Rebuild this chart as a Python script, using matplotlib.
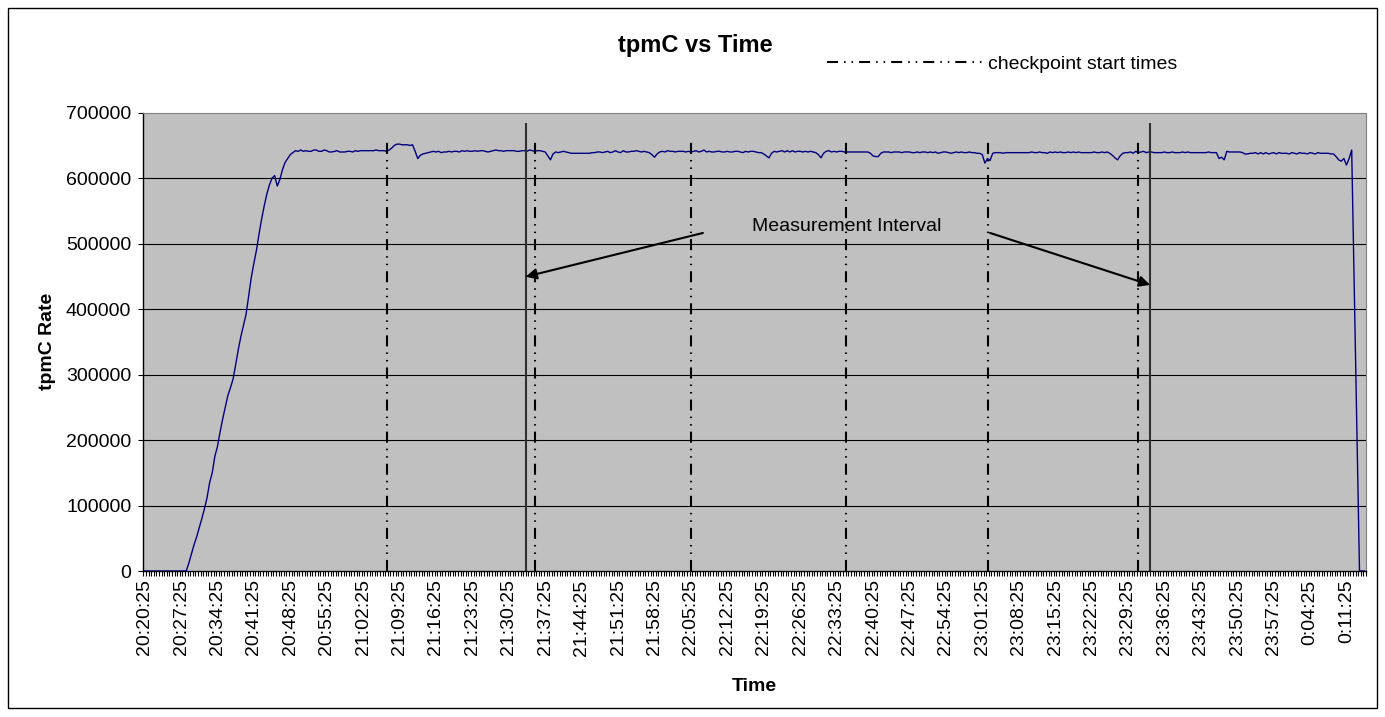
import numpy as np
import matplotlib
matplotlib.use("Agg")
import matplotlib.pyplot as plt
from matplotlib.lines import Line2D
from matplotlib.patches import Rectangle

plt.rcParams["font.family"] = ["Liberation Sans", "DejaVu Sans"]

# === Data (one sample every 30 s, starting 20:20:25) ===
START_TIME = "20:20:25"
SAMPLE_SECONDS = 30
LABEL_EVERY = 14  # one time label every 7 minutes

time_labels = [
    "20:20:25", "20:27:25", "20:34:25", "20:41:25", "20:48:25", "20:55:25",
    "21:02:25", "21:09:25", "21:16:25", "21:23:25", "21:30:25", "21:37:25",
    "21:44:25", "21:51:25", "21:58:25", "22:05:25", "22:12:25", "22:19:25",
    "22:26:25", "22:33:25", "22:40:25", "22:47:25", "22:54:25", "23:01:25",
    "23:08:25", "23:15:25", "23:22:25", "23:29:25", "23:36:25", "23:43:25",
    "23:50:25", "23:57:25", "0:04:25", "0:11:25",
]

tpmc = [
    0, 0, 0, 0, 0, 0, 0, 0, 0, 0, 0, 0, 0, 0,
    0, 0, 0, 12000, 26000, 40000, 52000, 66000, 80000, 95000, 112000, 135000, 150000, 175000,
    190000, 212000, 232000, 250000, 268000, 280000, 293000, 315000, 338000, 358000, 375000, 392000, 420000, 448000,
    470000, 490000, 515000, 538000, 558000, 576000, 590000, 600000, 604000, 588000, 598000, 613000, 624000, 630000,
    636000, 639000, 642000, 641000, 643000, 641000, 642000, 641000, 641000, 643000, 643000, 641000, 641000, 643000,
    642000, 640000, 640000, 641000, 642000, 640000, 640000, 640000, 641000, 641000, 640000, 642000, 641000, 642000,
    642000, 642000, 642000, 642000, 642000, 643000, 642000, 642000, 642000, 641000, 643000, 646000, 650000, 652000,
    652000, 651000, 651000, 651000, 650000, 651000, 641000, 630000, 635000, 637000, 638000, 639000, 640000, 641000,
    640000, 641000, 639000, 640000, 640000, 641000, 640000, 641000, 641000, 640000, 642000, 641000, 642000, 641000,
    641000, 642000, 641000, 642000, 642000, 641000, 640000, 641000, 642000, 643000, 642000, 642000, 641000, 642000,
    642000, 642000, 642000, 641000, 641000, 642000, 642000, 641000, 643000, 642000, 641000, 642000, 642000, 641000,
    640000, 634000, 628000, 637000, 640000, 639000, 640000, 641000, 640000, 639000, 638000, 638000, 638000, 638000,
    638000, 638000, 638000, 638000, 639000, 639000, 640000, 640000, 639000, 640000, 641000, 639000, 640000, 642000,
    640000, 639000, 642000, 640000, 640000, 641000, 641000, 642000, 641000, 640000, 641000, 640000, 639000, 636000,
    632000, 637000, 640000, 641000, 640000, 642000, 641000, 641000, 640000, 641000, 641000, 641000, 640000, 641000,
    640000, 641000, 642000, 640000, 641000, 643000, 640000, 641000, 640000, 640000, 641000, 641000, 640000, 640000,
    641000, 640000, 640000, 641000, 641000, 640000, 639000, 641000, 640000, 641000, 641000, 640000, 639000, 639000,
    637000, 634000, 631000, 638000, 641000, 640000, 641000, 642000, 640000, 642000, 640000, 642000, 640000, 641000,
    641000, 640000, 641000, 640000, 641000, 640000, 639000, 636000, 631000, 638000, 641000, 642000, 640000, 641000,
    640000, 641000, 641000, 640000, 640000, 640000, 640000, 640000, 640000, 640000, 640000, 640000, 640000, 638000,
    634000, 633000, 633000, 638000, 640000, 640000, 640000, 639000, 640000, 640000, 640000, 639000, 640000, 640000,
    640000, 639000, 639000, 640000, 639000, 640000, 640000, 639000, 640000, 639000, 640000, 638000, 639000, 640000,
    640000, 639000, 638000, 639000, 640000, 639000, 640000, 639000, 639000, 640000, 639000, 639000, 638000, 638000,
    636000, 623000, 630000, 627000, 638000, 639000, 639000, 639000, 638000, 639000, 639000, 639000, 639000, 639000,
    639000, 639000, 639000, 639000, 639000, 640000, 639000, 639000, 640000, 639000, 639000, 638000, 640000, 639000,
    640000, 639000, 640000, 639000, 639000, 640000, 639000, 640000, 639000, 640000, 639000, 639000, 639000, 639000,
    639000, 640000, 639000, 639000, 640000, 639000, 640000, 638000, 635000, 631000, 628000, 634000, 638000, 639000,
    639000, 640000, 638000, 641000, 639000, 640000, 641000, 639000, 640000, 640000, 639000, 639000, 639000, 639000,
    640000, 639000, 639000, 640000, 639000, 639000, 639000, 640000, 639000, 640000, 639000, 639000, 639000, 639000,
    639000, 639000, 639000, 640000, 639000, 639000, 639000, 630000, 632000, 628000, 641000, 640000, 640000, 640000,
    640000, 640000, 639000, 637000, 637000, 638000, 638000, 639000, 637000, 639000, 637000, 639000, 637000, 638000,
    639000, 637000, 639000, 638000, 638000, 638000, 637000, 639000, 638000, 637000, 639000, 638000, 638000, 637000,
    639000, 638000, 637000, 639000, 638000, 638000, 638000, 638000, 637000, 637000, 633000, 628000, 626000, 630000,
    620000, 630000, 643000, 430000, 210000, 0, 0, 0,
]

checkpoint_times = ["21:06:55", "21:35:25", "22:05:25", "22:35:10", "23:02:30", "23:31:25"]
interval_times = ["21:33:40", "23:33:40"]
CHECKPOINT_TOP = 658000
INTERVAL_TOP = 684000


def to_index(t):
    h, m, s = map(int, t.split(":"))
    h0, m0, s0 = map(int, START_TIME.split(":"))
    if h < 12:
        h += 24
    return ((h * 3600 + m * 60 + s) - (h0 * 3600 + m0 * 60 + s0)) / SAMPLE_SECONDS


# === Figure ===
W, H = 1385, 717
fig = plt.figure(figsize=(W / 100, H / 100), dpi=100)
ax = fig.add_axes([143.3 / W, 1 - 571 / H, 1222.7 / W, 458.3 / H])
ax.set_facecolor("#C0C0C0")

x = np.arange(len(tpmc))
ax.plot(x, tpmc, color="#000080", lw=1.0, zorder=3)

# horizontal gridlines
for v in range(100000, 700000, 100000):
    ax.axhline(v, color="black", lw=0.8, zorder=1)

# checkpoint and measurement interval lines
cp_style = (0, (5.3, 2.9, 0.7, 2.9, 0.7, 2.9))
ax.vlines([to_index(t) for t in checkpoint_times], 0, CHECKPOINT_TOP,
          colors="black", lw=1.5, linestyles=[cp_style], zorder=4)
ax.vlines([to_index(t) for t in interval_times], 0, INTERVAL_TOP,
          colors="#303030", lw=1.5, zorder=4)

# axes
ax.set_xlim(-0.5, len(tpmc) - 0.5)
ax.set_ylim(0, 700000)
ax.set_yticks(range(0, 700001, 100000))
ax.set_xticks([i * LABEL_EVERY for i in range(len(time_labels))])
ax.set_xticklabels(time_labels, rotation=90)
ax.set_xticks(np.arange(-0.5, len(tpmc)), minor=True)
ax.tick_params(axis="x", which="major", length=0, pad=6, labelsize=14)
ax.tick_params(axis="x", which="minor", length=3.6, width=0.8, color="black")
ax.tick_params(axis="y", length=3.6, width=0.8, pad=5, labelsize=14)
for side in ["top", "right"]:
    ax.spines[side].set_color("#808080")
for side in ["left", "bottom"]:
    ax.spines[side].set_color("black")
    ax.spines[side].set_linewidth(1.0)

ax.set_xlabel("Time", fontsize=14, fontweight="bold")
ax.xaxis.label.set_va("center")
ax.xaxis.set_label_coords(0.5, -0.251)
ax.set_ylabel("tpmC Rate", fontsize=14, fontweight="bold")
ax.yaxis.label.set_va("center")
ax.yaxis.set_label_coords(-0.078, 0.5)

# measurement interval annotation
arrow = dict(arrowstyle="-|>", color="black", lw=1.5, mutation_scale=16,
             shrinkA=0, shrinkB=0)
ax.text(233.4, 526000, "Measurement Interval", fontsize=14, ha="left", va="center", zorder=5)
ax.annotate("", xy=(to_index(interval_times[0]), 449500), xytext=(214.6, 516300),
            arrowprops=arrow, zorder=5)
ax.annotate("", xy=(to_index(interval_times[1]), 437000), xytext=(325.0, 516300),
            arrowprops=arrow, zorder=5)

# title and legend
fig.text(695 / W, 1 - 52 / H, "tpmC vs Time", ha="center", va="baseline",
         fontsize=17, fontweight="bold")
cp_handle = Line2D([], [], color="black", lw=1.5, linestyle=cp_style)
fig.legend(handles=[cp_handle], labels=["checkpoint start times"],
           loc="center left", bbox_to_anchor=(827 / W, 1 - 64 / H),
           frameon=False, fontsize=14, handlelength=8, handletextpad=0.3,
           borderpad=0, borderaxespad=0)

# outer chart border
fig.patches.append(Rectangle((8 / W, 9 / H), 1369 / W, 700 / H, transform=fig.transFigure,
                             fill=False, ec="black", lw=1))

fig.savefig("out.png", dpi=100)
